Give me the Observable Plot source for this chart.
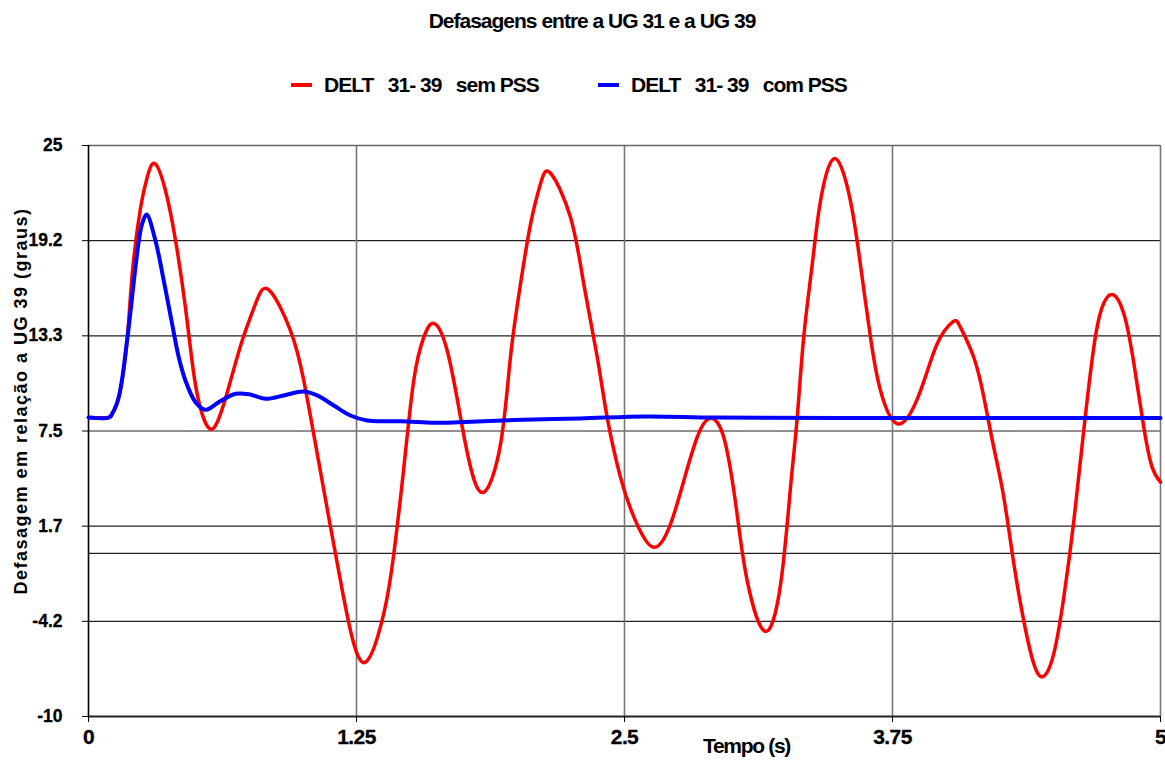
<!DOCTYPE html>
<html>
<head>
<meta charset="utf-8">
<script src="https://cdn.jsdelivr.net/npm/d3@7"></script>
<script src="https://cdn.jsdelivr.net/npm/@observablehq/plot@0.6"></script>
<style>
  body { margin: 0; background: #fff; font-family: "Liberation Sans", Arial, sans-serif; }
  #wrap { position: relative; width: 1165px; height: 767px; overflow: hidden; }
  #title { position: absolute; top: 9px; left: 0; width: 1184px; text-align: center;
           font-weight: bold; font-size: 21px; letter-spacing: -1.0px; white-space: pre; color: #000; }
  .leg { position: absolute; top: 73px; font-weight: bold; font-size: 21px; letter-spacing: -1px;
         white-space: pre; color: #000; line-height: 24px; }
  .sw { position: absolute; width: 21px; height: 4px; }
  #chart { position: absolute; top: 110px; left: 0; }
</style>
</head>
<body>
<div id="wrap">
  <div id="title"></div>
  <div id="legend"></div>
  <div id="chart"></div>
</div>
<script>
// ---- data ----
const titleText = "Defasagens entre a UG 31 e a UG 39";
const seriesNames = ["DELT   31- 39   sem PSS", "DELT   31- 39   com PSS"];
const seriesColors = ["#ff0000", "#0000ff"];

const xTicks = [0, 1.25, 2.5, 3.75, 5];
const xTickLabels = ["0", "1.25", "2.5", "3.75", "5"];
const yTicks = [25, 19.1667, 13.3333, 7.5, 1.6667, -4.1667, -10];
const yTickLabels = ["25", "19.2", "13.3", "7.5", "1.7", "-4.2", "-10"];
const xLabel = "Tempo (s)";
const yLabel = "Defasagem em relação a UG 39 (graus)";

// DELT 31-39 sem PSS (red)
const tRed = [0, 0.095, 0.11, 0.141, 0.180, 0.204, 0.243, 0.274, 0.309, 0.359, 0.406, 0.452, 0.491, 0.530, 0.585,
  0.654, 0.717, 0.779, 0.841, 0.942, 1.004, 1.067, 1.129, 1.175, 1.222, 1.292, 1.377, 1.424, 1.471, 1.517, 1.564,
  1.611, 1.673, 1.735, 1.782, 1.844, 1.922, 1.968, 2.015, 2.062, 2.108, 2.155, 2.248, 2.31, 2.373, 2.419, 2.481,
  2.544, 2.633, 2.715, 2.777, 2.839, 2.893, 2.963, 3.025, 3.072, 3.154, 3.228, 3.274, 3.305, 3.336, 3.375, 3.414,
  3.481, 3.554, 3.601, 3.647, 3.694, 3.779, 3.881, 3.958, 4.031, 4.067, 4.129, 4.176, 4.222, 4.269, 4.316, 4.362,
  4.409, 4.453, 4.502, 4.549, 4.596, 4.642, 4.689, 4.728, 4.775, 4.829, 4.876, 4.922, 4.961, 5.0];
const vRed = [8.33, 8.33, 8.55, 9.57, 13.05, 17.14, 21.2, 23.06, 23.9, 22.24, 19.18, 15.09, 11.0, 8.55, 7.69,
  10.18, 13.05, 15.3, 16.15, 13.66, 10.6, 6.1, 1.6, -1.66, -4.73, -6.67, -3.7, -0.03, 5.28, 10.6, 13.25,
  14.1, 12.43, 8.35, 5.28, 3.75, 6.71, 12.02, 16.52, 20.2, 22.65, 23.3, 20.6, 16.52, 12.02, 8.35, 4.67,
  2.22, 0.38, 1.81, 4.47, 7.12, 8.25, 7.12, 2.42, -1.66, -4.77, -1.9, 4.0, 8.23, 13.27, 17.64, 21.59,
  24.21, 21.59, 17.64, 13.27, 9.98, 7.93, 9.98, 12.83, 14.19, 13.86, 12.02, 9.57, 6.51, 3.44, -0.64, -4.12,
  -6.77, -7.55, -6.16, -2.69, 2.01, 7.53, 12.64, 15.09, 15.87, 14.68, 11.62, 7.73, 5.28, 4.36];

// DELT 31-39 com PSS (blue)
const tBlue = [0, 0.095, 0.11, 0.141, 0.180, 0.219, 0.235, 0.25, 0.271, 0.312, 0.351, 0.39, 0.421, 0.452, 0.499,
  0.546, 0.608, 0.686, 0.75, 0.826, 0.911, 1.004, 1.067, 1.144, 1.222, 1.3, 1.455, 1.611, 1.673, 1.984, 2.295,
  2.606, 2.917, 3.5, 5.0];
const vBlue = [8.33, 8.33, 8.55, 9.57, 13.05, 17.54, 19.18, 20.2, 20.77, 19.18, 16.72, 14.07, 12.02, 10.6, 9.27,
  8.8, 9.27, 9.78, 9.75, 9.47, 9.68, 9.92, 9.68, 9.06, 8.45, 8.14, 8.1, 8.0, 8.01, 8.17, 8.27,
  8.39, 8.32, 8.3, 8.3];

// ---- build ----
document.getElementById("title").textContent = titleText;

const legend = document.getElementById("legend");
const legPos = [{sw: 291, tx: 324}, {sw: 598, tx: 631}];
seriesNames.forEach((name, i) => {
  const sw = document.createElement("div");
  sw.className = "sw";
  sw.style.left = legPos[i].sw + "px";
  sw.style.top = "83px";
  sw.style.background = seriesColors[i];
  legend.appendChild(sw);
  const tx = document.createElement("div");
  tx.className = "leg";
  tx.style.left = legPos[i].tx + "px";
  tx.textContent = name;
  legend.appendChild(tx);
});

const red = tRed.map((t, i) => ({t, v: vRed[i]}));
const blue = tBlue.map((t, i) => ({t, v: vBlue[i]}));
const yTickRows = yTicks.map((v, i) => ({v, label: yTickLabels[i]}));
const xTickRows = xTicks.map((t, i) => ({t, label: xTickLabels[i]}));

const chart = Plot.plot({
  width: 1165,
  height: 657,
  marginTop: 35,
  marginLeft: 88,
  marginRight: 5,
  marginBottom: 51,
  style: {background: "#fff", fontFamily: "'Liberation Sans', Arial, sans-serif", overflow: "visible"},
  x: {domain: [0, 5]},
  y: {domain: [-10, 25]},
  marks: [
    Plot.ruleY(yTicks, {stroke: "#222", strokeWidth: 1.2}),
    Plot.ruleY([0], {stroke: "#222", strokeWidth: 1.2}),
    Plot.ruleX([1.25, 2.5, 3.75], {stroke: "#777", strokeWidth: 1.6}),
    Plot.ruleX([5], {stroke: "#777", strokeWidth: 1.6}),
    Plot.ruleY([25], {stroke: "#666", strokeWidth: 1.6}),
    Plot.ruleX([0], {stroke: "#000", strokeWidth: 1.6}),
    Plot.ruleY([-10], {stroke: "#222", strokeWidth: 2}),
    Plot.axisY({ticks: yTicks, tickFormat: () => "", tickSize: 6, label: null, stroke: "#000"}),
    Plot.axisX({ticks: xTicks, tickFormat: () => "", tickSize: 6, label: null, stroke: "#000"}),
    Plot.text(yTickRows, {y: "v", text: "label", frameAnchor: "left", textAnchor: "end", dx: -26,
      fontSize: 17.5, fontWeight: "bold", fill: "#000", stroke: "#000", strokeWidth: 0.3}),
    Plot.text(xTickRows, {x: "t", text: "label", frameAnchor: "bottom", lineAnchor: "top", dy: 13,
      fontSize: 21, fontWeight: "bold", fill: "#000", stroke: "#000", strokeWidth: 0.3}),
    Plot.line(red, {x: "t", y: "v", stroke: seriesColors[0], strokeWidth: 3.5, curve: "natural"}),
    Plot.line(blue, {x: "t", y: "v", stroke: seriesColors[1], strokeWidth: 4, curve: "catmull-rom"}),
    Plot.text([xLabel], {frameAnchor: "bottom", dx: 122, dy: 36, fill: "#000", fontSize: 21, fontWeight: "bold"}),
    Plot.text([yLabel], {frameAnchor: "left", textAnchor: "middle", rotate: -90,
      dx: -67, dy: -30, fill: "#000", fontSize: 18, fontWeight: "bold"})
  ]
});
document.getElementById("chart").appendChild(chart);

// letter spacing tweaks by content
d3.select(chart).selectAll("text").each(function() {
  const s = this.textContent;
  const el = d3.select(this);
  if (xTickLabels.includes(s)) {
    el.style("letter-spacing", "-0.6px");
  } else if (s === xLabel) {
    el.style("letter-spacing", "-1.3px");
  } else if (s === yLabel) {
    el.style("letter-spacing", "1.5px");
  }
});
</script>
</body>
</html>
